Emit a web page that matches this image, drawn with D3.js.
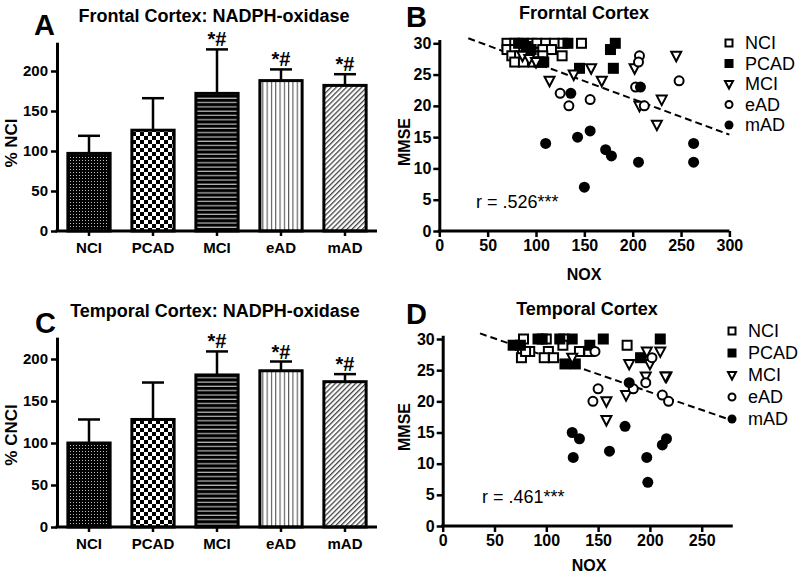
<!DOCTYPE html>
<html><head><meta charset="utf-8">
<script src="https://cdn.jsdelivr.net/npm/d3@7"></script>
<style>
body{margin:0;background:#fff;}
svg{display:block;font-family:"Liberation Sans",Arial,Helvetica,sans-serif;}
</style></head><body>
<svg id="c" width="800" height="576"></svg>
<script>
// ---------- DATA ----------
const groups = ["NCI","PCAD","MCI","eAD","mAD"];
const frontalMean = [97,126,172,188,182];
const frontalErr  = [119,166,227,202,196];
const frontalSig  = ["","","*#","*#","*#"];
const temporalMean = [100,128,181,186,173];
const temporalErr  = [128,172,209,197,182];
const temporalSig  = ["","","*#","*#","*#"];
const barTicks = [0,50,100,150,200];

// Frontal scatter (NOX, MMSE)
const fNCI = [[70,30],[78,30],[95,30],[101,30],[110,30],[119,30],[128,30],[147,30],[70,29],[78,29],[92,29],[107,29],[116,29],[75,28],[83,28],[98,28],[107,28],[127,28],[78,27],[87,27],[97,27],[103,27]];
const fPCAD = [[82,30],[87,30],[90,29.5],[95,29],[105,27],[108,27],[133,30],[177,29],[182,30],[145,26],[180,26]];
const fMCI = [[86,28],[93,27.5],[100,27],[114,24],[139,25],[157,26],[168,24],[202,26],[245,28],[207,20],[230,21],[225,17]];
const fEAD = [[125,22],[134,20],[156,21],[207,28],[206,27],[203,23],[212,20],[248,24]];
const fMAD = [[136,22],[208,23],[110,14],[143,15],[156,16],[172,13],[178,12],[150,7],[206,11],[263,14],[263,11]];
const fLine = [[30,30.8],[300,15.4]];
const fR = "r = .526***";

// Temporal scatter
const tNCI = [[78,30],[100,30],[117,30],[77,28],[84,28],[102,28],[76,27],[98,27],[107,27],[116,29],[132,28],[141,28],[178,29],[80,28]];
const tPCAD = [[68,29],[75,29],[92,30],[96,30],[113,30],[125,30],[142,29],[155,30],[210,30],[191,27],[118,26],[128,26]];
const tMCI = [[125,27],[180,26],[197,28],[210,28],[200,26],[196,24],[216,24],[177,21],[158,20],[158,17],[215,24]];
const tEAD = [[147,28],[150,22],[145,20],[184,22],[196,23],[202,27],[212,21],[218,20]];
const tMAD = [[180,23],[125,15],[132,14],[126,11],[161,12],[176,16],[197,11],[198,7],[212,13],[216,14]];
const tLine = [[36,30.9],[280,16.9]];
const tR = "r = .461***";

const mmseTicks = [0,5,10,15,20,25,30];
const noxTicksF = [0,50,100,150,200,250,300];
const noxTicksT = [0,50,100,150,200,250];

// ---------- DRAW ----------
const svg = d3.select("#c");
const defs = svg.append("defs");
function pat(id,w,h){return defs.append("pattern").attr("id",id).attr("patternUnits","userSpaceOnUse").attr("width",w).attr("height",h);}
let p = pat("pNCI",3,3); p.append("rect").attr("width",3).attr("height",3).attr("fill","#000");
p.append("rect").attr("x",1).attr("y",1).attr("width",1).attr("height",1).attr("fill","#bbb");
p = pat("pPCAD",8,8); p.append("rect").attr("width",8).attr("height",8).attr("fill","#fff");
p.append("rect").attr("width",4).attr("height",4).attr("fill","#000");
p.append("rect").attr("x",4).attr("y",4).attr("width",4).attr("height",4).attr("fill","#000");
p = pat("pMCI",4,4.3); p.append("rect").attr("width",4).attr("height",4.3).attr("fill","#000");
p.append("rect").attr("y",3.1).attr("width",4).attr("height",1.1).attr("fill","#ccc");
p = pat("pEAD",4.3,4); p.append("rect").attr("width",4.3).attr("height",4).attr("fill","#fff");
p.append("rect").attr("x",0).attr("width",1.1).attr("height",4).attr("fill","#555");
p = pat("pMAD",3.6,4).attr("patternTransform","rotate(45)"); p.append("rect").attr("width",3.6).attr("height",4).attr("fill","#fff");
p.append("rect").attr("x",0).attr("width",1.3).attr("height",4).attr("fill","#444");
const fills = ["url(#pNCI)","url(#pPCAD)","url(#pMCI)","url(#pEAD)","url(#pMAD)"];

function styleAxis(g,fs){
  g.select(".domain").attr("stroke","#000").attr("stroke-width",3);
  g.selectAll(".tick line").attr("stroke","#000").attr("stroke-width",2.5);
  g.selectAll(".tick text").attr("fill","#000").attr("font-size",fs).attr("font-weight","bold").attr("font-family","Liberation Sans, Arial, sans-serif");
}

function barPanel(o){
  const g = svg.append("g");
  const x = d3.scaleBand().domain(groups).range([o.x0,o.x1]).paddingInner(0.34).paddingOuter(0.17);
  const y = d3.scaleLinear().domain([0,o.ymax]).range([o.y0,o.y0 - o.ymax*o.k]);
  g.selectAll("rect.bar").data(o.mean).join("rect")
    .attr("x",(d,i)=>x(groups[i])).attr("width",x.bandwidth())
    .attr("y",d=>y(d)).attr("height",d=>y(0)-y(d))
    .attr("fill",(d,i)=>fills[i]).attr("stroke","#000").attr("stroke-width",3);
  const cx = i => x(groups[i]) + x.bandwidth()/2;
  g.selectAll("line.err").data(o.err).join("line")
    .attr("x1",(d,i)=>cx(i)).attr("x2",(d,i)=>cx(i))
    .attr("y1",(d,i)=>y(o.mean[i])).attr("y2",d=>y(d)).attr("stroke","#000").attr("stroke-width",2.5);
  g.selectAll("line.cap").data(o.err).join("line")
    .attr("x1",(d,i)=>cx(i)-11).attr("x2",(d,i)=>cx(i)+11)
    .attr("y1",d=>y(d)).attr("y2",d=>y(d)).attr("stroke","#000").attr("stroke-width",2.5);
  g.selectAll("text.sig").data(o.sig).join("text")
    .attr("x",(d,i)=>cx(i)).attr("y",(d,i)=>y(o.err[i])-3)
    .attr("text-anchor","middle").attr("font-size",20).attr("font-weight","bold").text(d=>d);
  const ya = g.append("g").attr("transform",`translate(${o.x0},0)`)
    .call(d3.axisLeft(y).tickValues(barTicks).tickSize(6).tickSizeOuter(0).tickPadding(3));
  styleAxis(ya,15);
  const xa = g.append("g").attr("transform",`translate(0,${o.y0})`)
    .call(d3.axisBottom(x).tickSize(5).tickSizeOuter(0).tickPadding(6));
  styleAxis(xa,15);
  xa.select(".domain").attr("d",`M${o.x0-1.5},0H${o.x1}`);
  g.append("text").attr("transform",`translate(${o.ylabX},${o.ylabY}) rotate(-90)`)
    .attr("text-anchor","middle").attr("font-size",17).attr("font-weight","bold").text(o.ylab);
  g.append("text").attr("x",o.titleX).attr("y",o.titleY).attr("text-anchor","middle")
    .attr("font-size",18).attr("font-weight","bold").text(o.title);
  g.append("text").attr("x",o.letX).attr("y",o.letY).attr("font-size",29).attr("font-weight","bold").text(o.letter);
}

barPanel({x0:57,x1:377,y0:231,k:0.80,ymax:236,mean:frontalMean,err:frontalErr,sig:frontalSig,
  ylab:"% NCI",ylabX:17,ylabY:143,title:"Frontal Cortex: NADPH-oxidase",titleX:214,titleY:22,letter:"A",letX:34,letY:35});
barPanel({x0:57,x1:377,y0:527,k:0.84,ymax:226,mean:temporalMean,err:temporalErr,sig:temporalSig,
  ylab:"% CNCI",ylabX:17,ylabY:435,title:"Temporal Cortex: NADPH-oxidase",titleX:215,titleY:317,letter:"C",letX:35,letY:333});

const sym = {
  NCI:  (g,s)=>g.append("rect").attr("x",-s/2).attr("y",-s/2).attr("width",s).attr("height",s).attr("fill","#fff").attr("stroke","#000").attr("stroke-width",2),
  PCAD: (g,s)=>g.append("rect").attr("x",-s/2-1).attr("y",-s/2-1).attr("width",s+2).attr("height",s+2).attr("fill","#000"),
  MCI:  (g,s)=>g.append("path").attr("d",`M${-s/2-0.5},${-s/2+0.5}L${s/2+0.5},${-s/2+0.5}L0,${s/2+1}Z`).attr("fill","#fff").attr("stroke","#000").attr("stroke-width",2).attr("stroke-linejoin","miter"),
  eAD:  (g,s)=>g.append("circle").attr("r",s/2).attr("fill","#fff").attr("stroke","#000").attr("stroke-width",2),
  mAD:  (g,s)=>g.append("circle").attr("r",s/2+1).attr("fill","#000")
};

function scatterPanel(o){
  const g = svg.append("g");
  const x = d3.scaleLinear().domain([0,o.xmax]).range([o.x0,o.x0+o.xmax*o.kx]);
  const y = d3.scaleLinear().domain([0,30.6]).range([o.y0,o.y0-30.6*o.ky]);
  g.append("line").attr("x1",x(o.line[0][0])).attr("y1",y(o.line[0][1]))
    .attr("x2",x(o.line[1][0])).attr("y2",y(o.line[1][1]))
    .attr("stroke","#000").attr("stroke-width",2).attr("stroke-dasharray","7,4");
  const sets = [["NCI",o.data[0]],["PCAD",o.data[1]],["MCI",o.data[2]],["eAD",o.data[3]],["mAD",o.data[4]]];
  sets.forEach(([k,arr])=>{
    arr.forEach(d=>{
      const pg = g.append("g").attr("transform",`translate(${x(d[0])},${y(d[1])})`);
      sym[k](pg,9);
    });
  });
  const ya = g.append("g").attr("transform",`translate(${o.x0},0)`)
    .call(d3.axisLeft(y).tickValues(mmseTicks).tickSize(6).tickSizeOuter(0).tickPadding(2));
  styleAxis(ya,16);
  const xa = g.append("g").attr("transform",`translate(0,${o.y0})`)
    .call(d3.axisBottom(x).tickValues(o.xticks).tickSize(6).tickSizeOuter(0).tickPadding(3));
  styleAxis(xa,16);
  xa.select(".domain").attr("d",`M${o.x0-1.5},0H${x(o.xmax)}`);
  g.append("text").attr("transform",`translate(${o.ylabX},${o.ylabY}) rotate(-90)`)
    .attr("text-anchor","middle").attr("font-size",16).attr("font-weight","bold").text("MMSE");
  g.append("text").attr("x",o.xlabX).attr("y",o.xlabY).attr("text-anchor","middle")
    .attr("font-size",16).attr("font-weight","bold").text("NOX");
  g.append("text").attr("x",o.titleX).attr("y",o.titleY).attr("text-anchor","middle")
    .attr("font-size",18).attr("font-weight","bold").text(o.title);
  g.append("text").attr("x",o.letX).attr("y",o.letY).attr("font-size",29).attr("font-weight","bold").text(o.letter);
  g.append("text").attr("x",o.rX).attr("y",o.rY).attr("font-size",18).text(o.r);
  groups.forEach((k,i)=>{
    const ly = o.legY + i*o.legDy;
    const pg = g.append("g").attr("transform",`translate(${o.legX},${ly})`);
    sym[k](pg,7);
    g.append("text").attr("x",o.legX+16).attr("y",ly+6).attr("font-size",18).text(k);
  });
}

scatterPanel({x0:439.3,kx:0.967,xmax:300,y0:231,ky:6.257,xticks:noxTicksF,line:fLine,
  data:[fNCI,fPCAD,fMCI,fEAD,fMAD],title:"Frorntal Cortex",titleX:584,titleY:19,letter:"B",letX:406,letY:27,
  r:fR,rX:476,rY:208,ylabX:410,ylabY:142,xlabX:584,xlabY:280,legX:729,legY:43,legDy:20.5});
scatterPanel({x0:442.7,kx:1.036,xmax:280,y0:526,ky:6.233,xticks:noxTicksT,line:tLine,
  data:[tNCI,tPCAD,tMCI,tEAD,tMAD],title:"Temporal Cortex",titleX:587,titleY:315,letter:"D",letX:406,letY:324,
  r:tR,rX:482,rY:503,ylabX:410,ylabY:427,xlabX:589,xlabY:571,legX:732,legY:331,legDy:22});
</script>
</body></html>
